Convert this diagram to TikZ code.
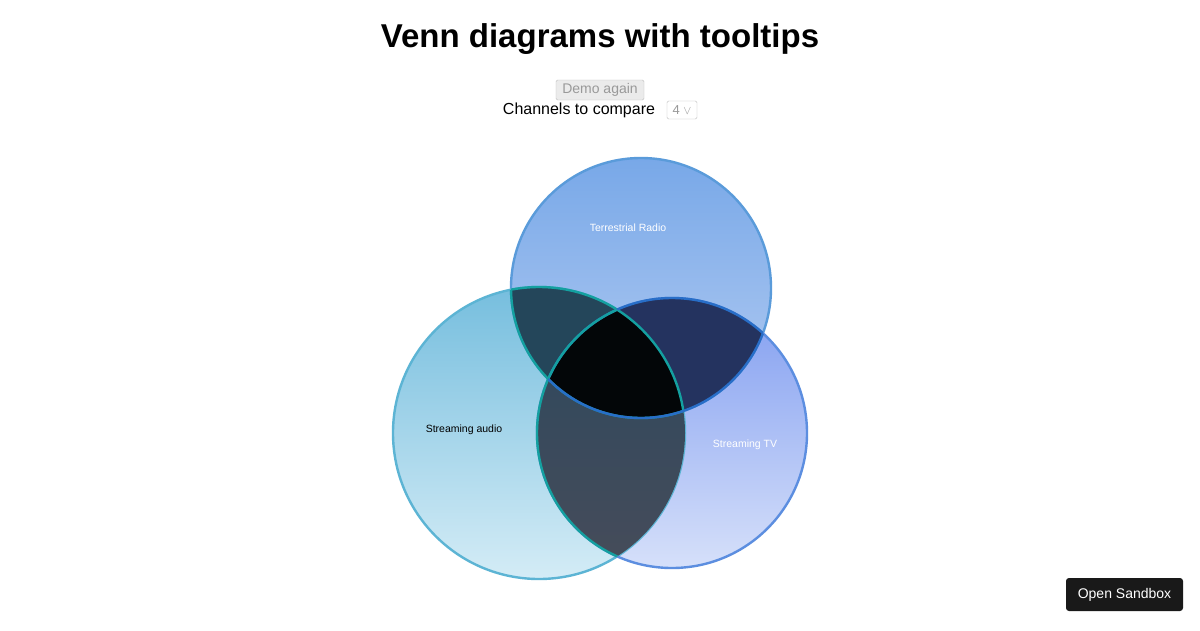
\documentclass[tikz,border=0pt]{standalone}
\usepackage{fontspec}
\setmainfont{Liberation Sans}
\definecolor{rfill}{RGB}{36,70,90}
\definecolor{tfill}{RGB}{36,51,95}
\definecolor{triple}{RGB}{3,6,8}
\definecolor{teal2}{RGB}{20,160,160}
\definecolor{blue2}{RGB}{40,110,200}
\begin{document}
\begin{tikzpicture}[x=1pt,y=-1pt,
  lbl/.style={font=\fontsize{10.5}{12}\selectfont},
  edge/.style={line width=2.4pt}]
\useasboundingbox (0,0) rectangle (1200,630);
\fill[white] (0,0) rectangle (1200,630);
\node[font=\bfseries\fontsize{33}{36}\selectfont] (title) at (600,39) {Venn diagrams with tooltips};
\node[draw=black!25,fill=black!8,rounded corners=1.5pt,minimum width=88,minimum height=20,inner sep=0,text=black!40,font=\fontsize{14}{16}\selectfont] (demo) at (600,90) {Demo again};
\node[font=\fontsize{16}{18}\selectfont] (chan) at (579,110) {Channels to compare};
\node[draw=black!25,rounded corners=1.5pt,minimum width=30,minimum height=18,inner sep=0,text=black!40,font=\fontsize{13}{14}\selectfont] (sel) at (682,110) {4 $\vee$};
\node[fill=black!90,rounded corners=3pt,minimum width=117,minimum height=33,inner sep=0,text=white,font=\fontsize{14}{16}\selectfont] (sb) at (1124.5,594.5) {Open Sandbox};
\def\R{(641,288) circle[radius=130]}
\def\A{(539,433) circle[radius=146]}
\def\T{(672,433) circle[radius=135]}
\shade[top color={rgb,255:red,120;green,168;blue,232},bottom color={rgb,255:red,180;green,204;blue,242}] \R;
\shade[top color={rgb,255:red,118;green,190;blue,222},bottom color={rgb,255:red,212;green,236;blue,246}] \A;
\shade[top color={rgb,255:red,130;green,158;blue,240},bottom color={rgb,255:red,214;green,224;blue,250}] \T;
\draw[edge,color={rgb,255:red,90;green,155;blue,218}] \R;
\draw[edge,color={rgb,255:red,92;green,180;blue,212}] \A;
\draw[edge,color={rgb,255:red,92;green,142;blue,224}] \T;
\begin{scope}\clip \R; \fill[rfill] \A; \end{scope}
\begin{scope}\clip \R; \fill[tfill] \T; \end{scope}
\begin{scope}\clip \A; \shade[top color={rgb,255:red,44;green,72;blue,94},bottom color={rgb,255:red,70;green,76;blue,90}] \T; \end{scope}
\begin{scope}\clip \R; \clip \A; \fill[triple] \T; \end{scope}
\begin{scope}\clip \R; \draw[edge,teal2] \A; \draw[edge,blue2] \T; \end{scope}
\begin{scope}\clip \A; \draw[edge,teal2] \R; \draw[edge,teal2] \T; \end{scope}
\begin{scope}\clip \T; \draw[edge,blue2] \R; \end{scope}
\node[lbl,text=white] (lr) at (628,228) {Terrestrial Radio};
\node[lbl,text=black] (la) at (464,430) {Streaming audio};
\node[lbl,text=white] (lt) at (745,445) {Streaming TV};
\end{tikzpicture}
\end{document}
